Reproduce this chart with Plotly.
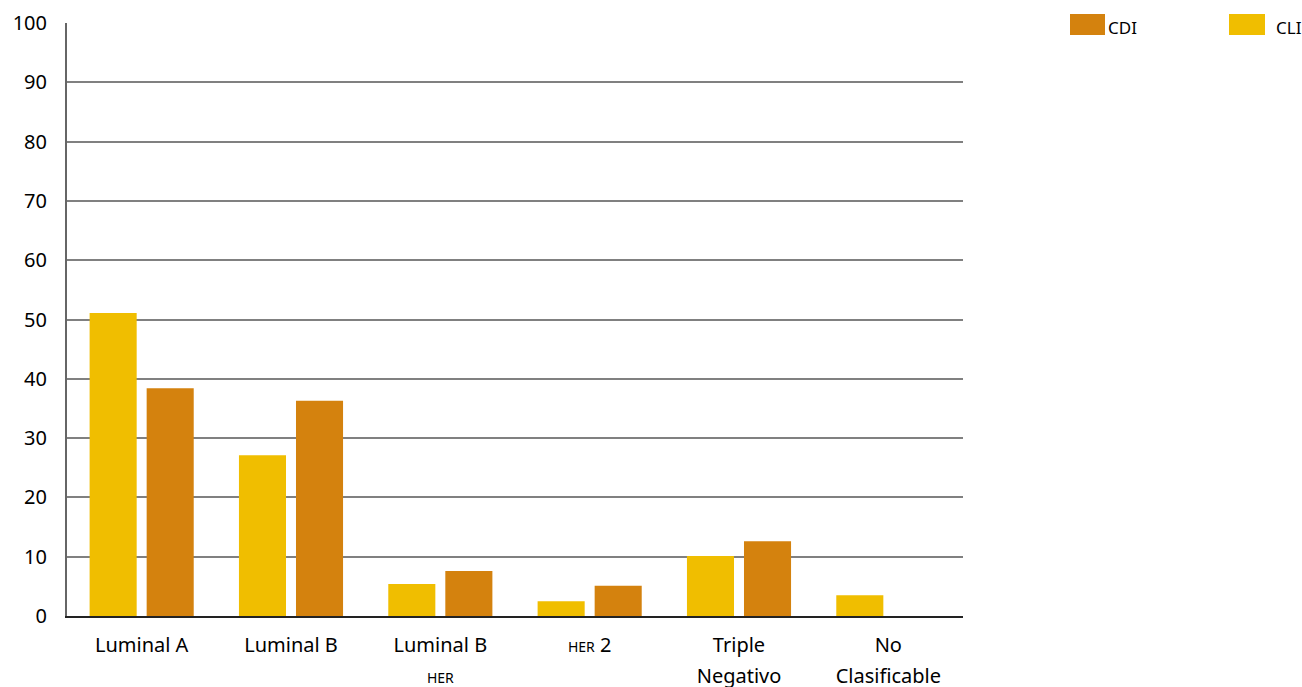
import plotly.graph_objects as go

categories = ["Luminal A", "Luminal B", "Luminal B HER", "HER 2", "Triple Negativo", "No Clasificable"]
S = "<span style='font-size:20px'>{}</span>"
SM = "<span style='font-size:14px'>{}</span>"
tick_labels = [
    S.format("Luminal A"),
    S.format("Luminal B"),
    S.format("Luminal B") + "<br>" + SM.format("HER"),
    SM.format("HER") + S.format(" 2"),
    S.format("Triple") + "<br>" + S.format("Negativo"),
    S.format("No") + "<br>" + S.format("Clasificable"),
]
cli_values = [51.1, 27.1, 5.4, 2.5, 10.1, 3.5]
cdi_values = [38.4, 36.3, 7.6, 5.1, 12.6, 0]
y_ticks = [0, 10, 20, 30, 40, 50, 60, 70, 80, 90, 100]

CLI_COLOR = "#F0BE00"
CDI_COLOR = "#D4820E"
FONT = "Noto Sans"

W, H = 1302, 687
L, R, T, B = 67, 339, 23, 71
pw, ph = W - L - R, H - T - B

def px_to_paper(x, y):
    return (x - L) / pw, (H - B - y) / ph

fig = go.Figure()
fig.add_trace(go.Bar(name="CLI", x=categories, y=cli_values, marker_color=CLI_COLOR,
                     marker_line_width=0))
fig.add_trace(go.Bar(name="CDI", x=categories, y=cdi_values, marker_color=CDI_COLOR,
                     marker_line_width=0))

shapes = []
annotations = []
for name, color, x0, x1, tx in [("CDI", CDI_COLOR, 1070, 1105, 1106), ("CLI", CLI_COLOR, 1229, 1265, 1274)]:
    a0, b0 = px_to_paper(x0, 35)
    a1, b1 = px_to_paper(x1, 14)
    shapes.append(dict(type="rect", xref="paper", yref="paper", x0=a0, x1=a1, y0=b0, y1=b1,
                       fillcolor=color, line_width=0))
    ax, ay = px_to_paper(tx, 28)
    annotations.append(dict(xref="paper", yref="paper", x=ax, y=ay, text=name, showarrow=False,
                            xanchor="left", yanchor="middle",
                            font=dict(family=FONT, size=17, color="#000")))

fig.update_layout(
    width=W, height=H,
    margin=dict(l=L, r=R, t=T, b=B, autoexpand=False),
    paper_bgcolor="white", plot_bgcolor="white",
    barmode="group", bargap=0.236, bargroupgap=0.175,
    showlegend=False,
    font=dict(family=FONT, size=20, color="#000"),
    shapes=shapes, annotations=annotations,
    xaxis=dict(
        tickmode="array", tickvals=categories, ticktext=tick_labels,
        showline=True, linecolor="#222", linewidth=2,
        showgrid=False, ticks="", tickfont=dict(size=24), ticklabelstandoff=5,
        automargin=False,
    ),
    yaxis=dict(
        range=[0, 100], tickmode="array", tickvals=y_ticks,
        showgrid=True, gridcolor="#808080", gridwidth=1.5,
        showline=True, linecolor="#666", linewidth=2,
        ticks="", tickfont=dict(size=20), ticklabelstandoff=14,
        zeroline=False, automargin=False,
    ),
)

fig.write_html("out.html")
